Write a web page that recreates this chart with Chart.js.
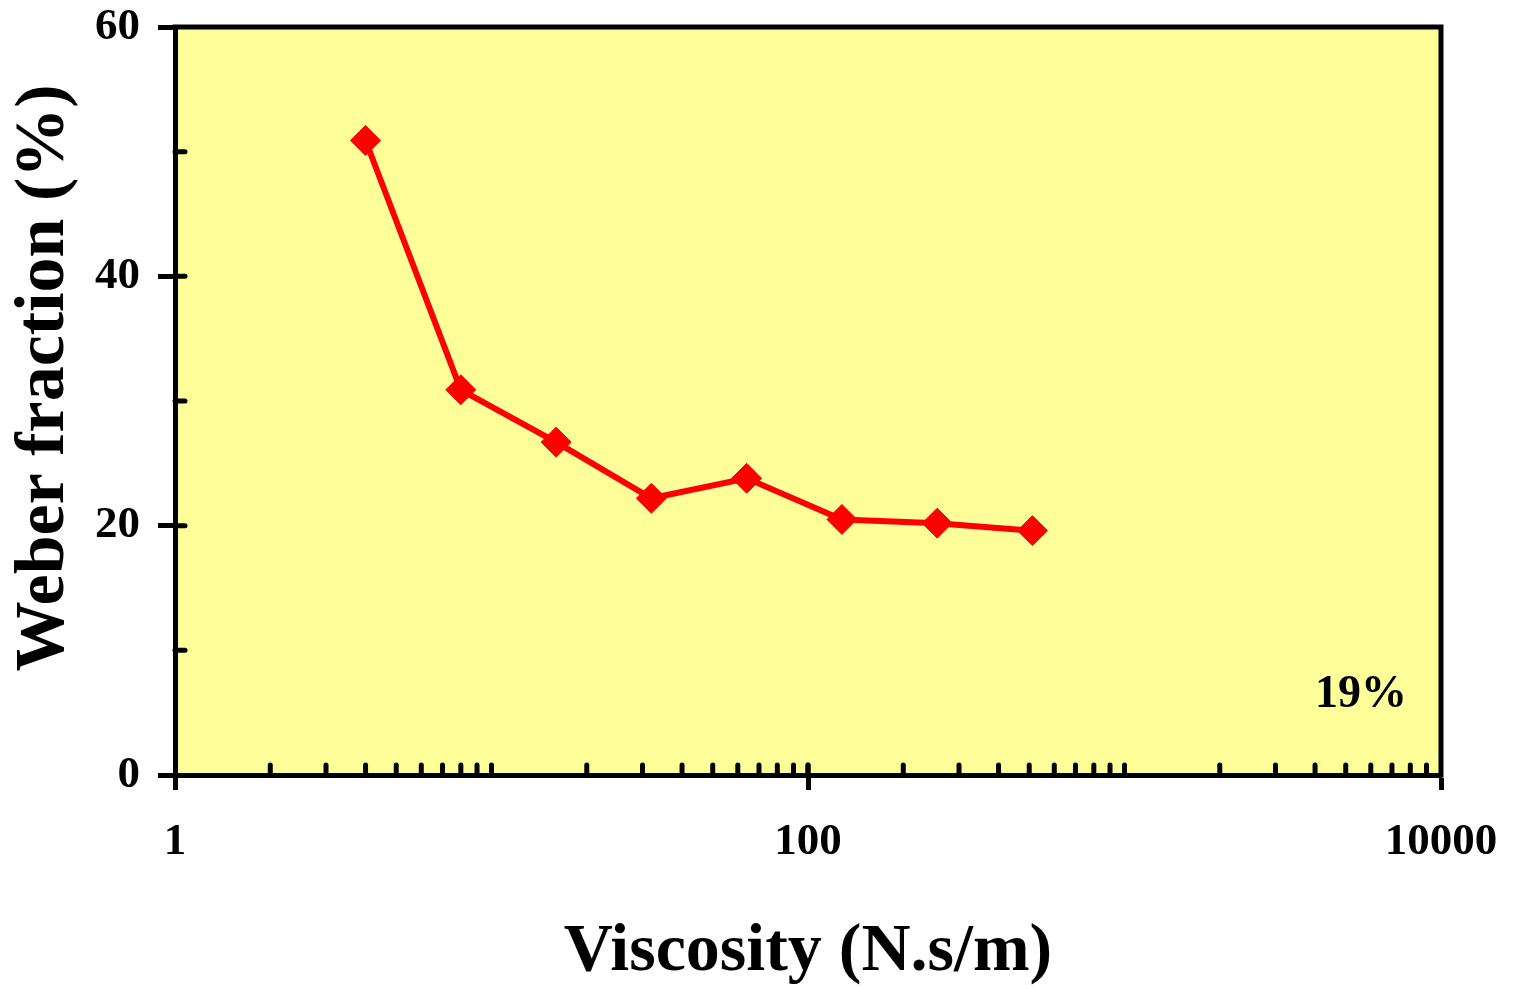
<!DOCTYPE html>
<html>
<head>
<meta charset="utf-8">
<title>Weber fraction vs viscosity</title>
<script src="https://cdn.jsdelivr.net/npm/chart.js@4.4.1/dist/chart.umd.min.js"></script>
<style>
  body { margin: 0; background: #ffffff; }
  #wrap { width: 1522px; height: 989px; }
</style>
</head>
<body>
<div id="wrap"><canvas id="weber-chart"></canvas></div>
<script>
// values
const viscosity = [4, 8, 16, 32, 64, 128, 256, 512];
const weberFraction = [50.9, 30.9, 26.7, 22.2, 23.8, 20.5, 20.2, 19.6];
const xTickValues = [1, 100, 10000];
const yTickLabels = [0, 20, 40, 60];
const cornerNote = "19%";
const yTitle = "Weber fraction (%)";

const serif = "'Liberation Serif', 'Times New Roman', serif";

const points = viscosity.map(function (v, i) {
  return { x: v, y: weberFraction[i] };
});

// log minor positions 2..9 in every decade, plus the inner decades
const xMinor = [];
for (let d = 1; d < 10000; d *= 10) {
  for (let m = 2; m <= 10; m++) {
    if (d * m < 10000) xMinor.push(d * m);
  }
}

const framePlugin = {
  id: "frame",
  beforeDraw: function (chart) {
    const a = chart.chartArea;
    const ctx = chart.ctx;
    ctx.save();
    ctx.fillStyle = "#ffff99";
    ctx.fillRect(a.left, a.top, a.right - a.left, a.bottom - a.top);
    ctx.restore();
  },
  beforeDatasetsDraw: function (chart) {
    const a = chart.chartArea;
    const ctx = chart.ctx;
    const xs = chart.scales.x;
    const ys = chart.scales.y;
    ctx.save();
    ctx.strokeStyle = "#000000";
    ctx.lineWidth = 5;
    ctx.lineCap = "round";
    // inward ticks on the x axis
    xMinor.concat([100]).forEach(function (v) {
      const px = xs.getPixelForValue(v);
      ctx.beginPath();
      ctx.moveTo(px, a.bottom);
      ctx.lineTo(px, a.bottom - 10);
      ctx.stroke();
    });
    // inward ticks on the y axis
    for (let v = 10; v < 60; v += 10) {
      const py = ys.getPixelForValue(v);
      ctx.beginPath();
      ctx.moveTo(a.left, py);
      ctx.lineTo(a.left + 10, py);
      ctx.stroke();
    }
    // top and right edges of the box
    ctx.lineCap = "butt";
    ctx.beginPath();
    ctx.moveTo(a.left - 2.5, a.top);
    ctx.lineTo(a.right, a.top);
    ctx.lineTo(a.right, a.bottom + 2.5);
    ctx.stroke();
    ctx.restore();
  },
  afterDatasetsDraw: function (chart) {
    const a = chart.chartArea;
    const ctx = chart.ctx;
    ctx.save();
    ctx.fillStyle = "#000000";
    ctx.font = "bold 46px " + serif;
    ctx.textAlign = "center";
    ctx.textBaseline = "middle";
    ctx.fillText(cornerNote, a.right - 80, a.bottom - 80);
    // y axis title, sits a little above the middle of the axis in the original
    ctx.font = "bold 70px " + serif;
    ctx.translate(45, 378);
    ctx.rotate(-Math.PI / 2);
    ctx.fillText(yTitle, 0, 0);
    ctx.restore();
  },
};

const ctx = document.getElementById("weber-chart").getContext("2d");
new Chart(ctx, {
  type: "scatter",
  data: {
    datasets: [
      {
        label: "Weber fraction",
        data: points,
        showLine: true,
        borderColor: "#ff0000",
        borderWidth: 6,
        tension: 0,
        pointStyle: "rectRot",
        pointRadius: 15,
        pointBorderWidth: 1,
        pointBackgroundColor: "#ff0000",
        pointBorderColor: "#ff0000",
      },
    ],
  },
  options: {
    responsive: true,
    maintainAspectRatio: false,
    animation: false,
    layout: { padding: { top: 27, right: 81, left: 0, bottom: 0 } },
    plugins: {
      legend: { display: false },
      tooltip: { enabled: false },
    },
    scales: {
      x: {
        type: "logarithmic",
        min: 1,
        max: 10000,
        afterBuildTicks: function (scale) {
          scale.ticks = xTickValues.map(function (v) {
            return { value: v };
          });
        },
        afterFit: function (scale) {
          scale.height = 214;
          scale.paddingLeft = 0;
          scale.paddingRight = 0;
        },
        border: { display: true, color: "#000000", width: 5 },
        grid: {
          drawOnChartArea: false,
          drawTicks: true,
          tickLength: 15,
          tickWidth: 5,
          tickColor: "#000000",
        },
        ticks: {
          color: "#000000",
          font: { family: serif, size: 45, weight: "bold" },
          padding: 25,
          maxRotation: 0,
          autoSkip: false,
          callback: function (value) {
            return String(value);
          },
        },
        title: {
          display: true,
          text: "Viscosity (N.s/m)",
          color: "#000000",
          font: { family: serif, size: 68, weight: "bold", lineHeight: 1 },
          padding: { top: 0, bottom: 3 },
        },
      },
      y: {
        min: 0,
        max: 60,
        afterFit: function (scale) {
          scale.width = 175;
          scale.paddingTop = 0;
          scale.paddingBottom = 0;
        },
        border: { display: true, color: "#000000", width: 5 },
        grid: {
          drawOnChartArea: false,
          drawTicks: true,
          tickLength: 17,
          tickWidth: 5,
          tickColor: function (c) {
            return yTickLabels.indexOf(c.tick.value) >= 0 ? "#000000" : "rgba(0,0,0,0)";
          },
        },
        ticks: {
          stepSize: 10,
          color: "#000000",
          font: { family: serif, size: 45, weight: "bold" },
          padding: 18,
          callback: function (value) {
            return yTickLabels.indexOf(value) >= 0 ? String(value) : "";
          },
        },
        title: { display: false },
      },
    },
  },
  plugins: [framePlugin],
});
</script>
</body>
</html>
